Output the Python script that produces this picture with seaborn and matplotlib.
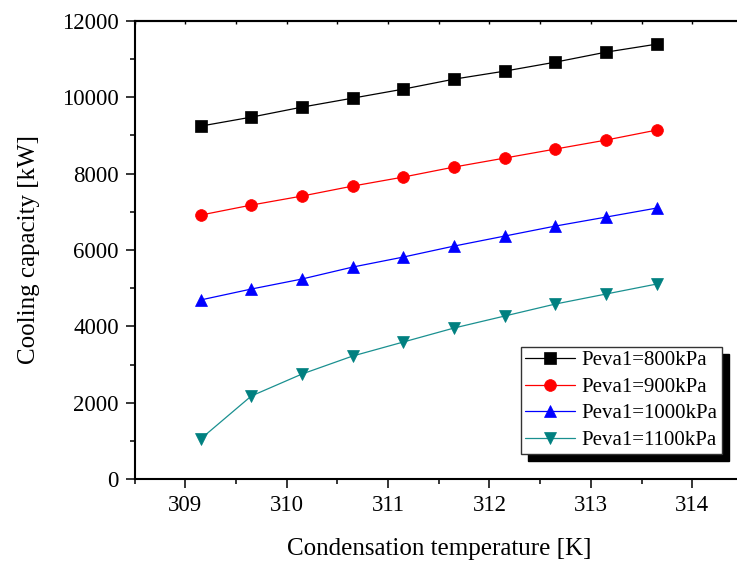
import matplotlib
matplotlib.use("Agg")
import matplotlib.pyplot as plt
import seaborn as sns
import pandas as pd
from matplotlib.ticker import MultipleLocator

temperature = [309.15, 309.65, 310.15, 310.65, 311.15, 311.65, 312.15, 312.65, 313.15, 313.65]
cap_800 = [9241, 9476, 9738, 9973, 10209, 10470, 10680, 10915, 11177, 11386]
cap_900 = [6913, 7175, 7411, 7672, 7908, 8170, 8405, 8641, 8876, 9138]
cap_1000 = [4692, 4978, 5240, 5553, 5815, 6102, 6364, 6626, 6861, 7097]
cap_1100 = [1054, 2179, 2754, 3225, 3592, 3958, 4272, 4586, 4848, 5109]
series_labels = ["Peva1=800kPa", "Peva1=900kPa", "Peva1=1000kPa", "Peva1=1100kPa"]

sns.set_theme(style="ticks")
plt.rcParams["font.family"] = ["Liberation Serif", "DejaVu Serif"]
plt.rcParams["text.color"] = "black"
plt.rcParams["axes.labelcolor"] = "black"
plt.rcParams["xtick.color"] = "black"
plt.rcParams["ytick.color"] = "black"

fig = plt.figure(figsize=(7.37, 5.65), dpi=100)
ax = fig.add_axes([0.1828, 0.1517, 0.8252, 0.8117])

styles = [
    ("s", "#000000", "#000000"),
    ("o", "#FF0000", "#FF0000"),
    ("^", "#0000FF", "#0000FF"),
    ("v", "#008080", "#1a9090"),
]
all_vals = [cap_800, cap_900, cap_1000, cap_1100]
for vals, lab, (mk, mc, lc) in zip(all_vals, series_labels, styles):
    df = pd.DataFrame({"T": temperature, "Q": vals})
    sns.lineplot(data=df, x="T", y="Q", ax=ax, color=lc, linewidth=0.9,
                 marker=mk, markersize=8 if mk == "s" else 8.5,
                 markerfacecolor=mc, markeredgecolor=mc, markeredgewidth=0.5,
                 label=lab)

ax.set_xlim(308.5, 314.5)
ax.set_ylim(0, 12000)
ax.xaxis.set_major_locator(MultipleLocator(1))
ax.xaxis.set_minor_locator(MultipleLocator(0.5))
ax.yaxis.set_major_locator(MultipleLocator(2000))
ax.yaxis.set_minor_locator(MultipleLocator(1000))

for sp in ["left", "bottom", "top"]:
    ax.spines[sp].set_linewidth(1.5)
    ax.spines[sp].set_color("black")
ax.spines["right"].set_visible(False)

ax.tick_params(axis="both", which="major", direction="out", length=6.5, width=1.1,
               labelsize=16.5, colors="black", pad=5)
ax.tick_params(axis="both", which="minor", direction="out", length=3.5, width=1.1, colors="black")

top = ax.secondary_xaxis("top")
top.xaxis.set_major_locator(MultipleLocator(1))
top.xaxis.set_minor_locator(MultipleLocator(0.5))
top.tick_params(axis="x", which="both", direction="in", length=2, width=1.0,
                labeltop=False, colors="black")
top.spines["top"].set_linewidth(1.5)
top.spines["top"].set_color("black")

ax.set_xlabel("Condensation temperature [K]", fontsize=18, labelpad=16)
ax.set_ylabel("Cooling capacity [kW]", fontsize=18, labelpad=16)

leg = ax.legend(loc="lower right", bbox_to_anchor=(0.9655, 0.0552), borderaxespad=0,
                fontsize=15, frameon=True, fancybox=False, handlelength=2.4,
                handletextpad=0.3, borderpad=0.2, labelspacing=0.33,
                shadow={"ox": 5, "oy": -5, "color": "black", "alpha": 1.0})
leg.get_frame().set_edgecolor("#333333")
leg.get_frame().set_linewidth(1.0)
leg.get_frame().set_facecolor("white")
for t in leg.get_texts():
    t.set_color("black")

fig.savefig("out.png", dpi=100)
